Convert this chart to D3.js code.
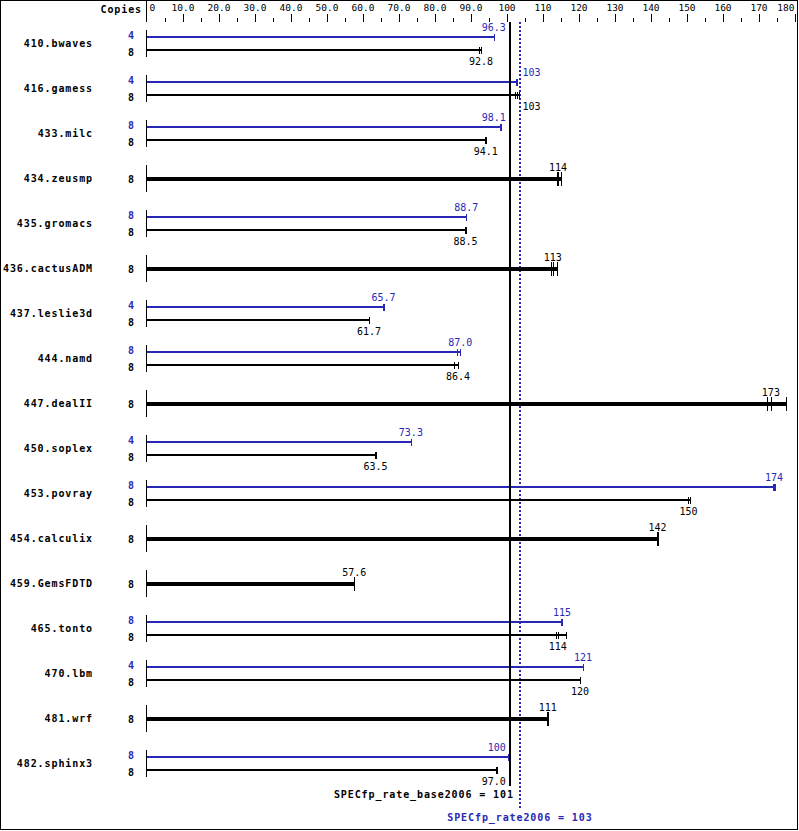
<!DOCTYPE html>
<html><head><meta charset="utf-8">
<script src="https://cdn.jsdelivr.net/npm/d3@7"></script>
<style>body{margin:0;background:#fff} svg{display:block}</style>
</head><body><svg id="c" width="799" height="831"></svg>
<script>
// ---- data ----
const benchmarks = ["410.bwaves","416.gamess","433.milc","434.zeusmp","435.gromacs","436.cactusADM","437.leslie3d","444.namd","447.dealII","450.soplex","453.povray","454.calculix","459.GemsFDTD","465.tonto","470.lbm","481.wrf","482.sphinx3"];
const baseCopies = [8,8,8,8,8,8,8,8,8,8,8,8,8,8,8,8,8];
const peakCopies = [4,4,8,null,8,null,4,8,null,4,8,null,null,8,4,null,8];
const baseScore = [92.8,103,94.1,114,88.5,113,61.7,86.4,173,63.5,150,142,57.6,114,120,111,97.0];
const peakScore = [96.3,103,98.1,null,88.7,null,65.7,87.0,null,73.3,174,null,null,115,121,null,100];
const baseRuns = [
  [92.3,92.8,92.9],[102.3,102.9,103.4],[93.9,94.1,94.1],[114.0,114.2,114.9],
  [88.4,88.5,88.5],[112.1,112.7,113.8],[61.6,61.7,61.8],[85.2,86.4,86.4],
  [172.1,173.3,177.5],[63.4,63.5,63.6],[150.3,150.4,150.7],[141.6,141.8,142.0],
  [57.4,57.6,57.6],[113.5,114.1,116.5],[120.2,120.3,120.4],[111.2,111.3,111.4],
  [97.0,97.0,97.1]];
const peakRuns = [
  [96.3,96.3,96.5],[102.5,102.6,102.7],[98.0,98.1,98.2],null,
  [88.6,88.7,88.7],null,[65.6,65.7,65.7],[86.1,87.0,87.0],
  null,[73.2,73.3,73.3],[174.0,174.2,174.5],null,
  null,[115.1,115.3,115.4],[121.0,121.1,121.1],null,
  [100.4,100.5,100.6]];
const majorTicks = [0,10,20,30,40,50,60,70,80,90,100,110,120,130,140,150,160,170,180];
const tickLabels = ["0","10.0","20.0","30.0","40.0","50.0","60.0","70.0","80.0","90.0","100","110","120","130","140","150","160","170","180"];
const minorTicks = [5,15,25,35,45,55,65,75,85,95,105,115,125,135,145,155,165,175];
const baseRef = 100.8, peakRef = 103.6;
const baseRefLabel = "SPECfp_rate_base2006 = 101";
const peakRefLabel = "SPECfp_rate2006 = 103";

// ---- drawing ----
const BLUE = "#2828b4";
const MONO = "'DejaVu Sans Mono','Liberation Mono',monospace";
const svg = d3.select("#c");
svg.append("rect").attr("x",0.5).attr("y",0.5).attr("width",797).attr("height",829)
  .attr("fill","#fff").attr("stroke","#000");

const x = d3.scaleLinear().domain([0,180]).range([147,795]);
const rowY = d3.scalePoint().domain(benchmarks).range([43.5, 43.5+45*16]);

// axis (top)
const gAx = svg.append("g").attr("transform","translate(0,22)");
gAx.call(d3.axisTop(x).tickValues(majorTicks).tickSize(8).tickPadding(3.5)
  .tickFormat((d,i)=>tickLabels[i]));
gAx.select(".domain").remove();
gAx.selectAll(".tick line").attr("shape-rendering","crispEdges");
gAx.selectAll(".tick text").attr("font-family",MONO).attr("font-size","9.5px").attr("fill","#000")
  .attr("text-anchor",(d)=> d===0?"start":(d===180?"end":"middle"))
  .attr("dx",(d)=> d===0?2:(d===180?-1:-0.5));
gAx.selectAll(".tick").filter(d=>d===0).select("line").remove();
const gAx2 = svg.append("g").attr("transform","translate(0,22)");
gAx2.call(d3.axisTop(x).tickValues(minorTicks).tickSize(4).tickFormat(""));
gAx2.select(".domain").remove();
gAx2.selectAll(".tick line").attr("shape-rendering","crispEdges");

svg.append("line").attr("x1",146.5).attr("x2",146.5).attr("y1",0).attr("y2",22)
  .attr("stroke","#000").attr("shape-rendering","crispEdges");
svg.append("text").attr("x",142).attr("y",12.5).attr("text-anchor","end")
  .attr("font-family",MONO).attr("font-size","10px").attr("font-weight","bold")
  .attr("letter-spacing","0.9px").text("Copies");

// peak reference dotted line (behind bars)
svg.append("line").attr("x1",x(peakRef)).attr("x2",x(peakRef)).attr("y1",22).attr("y2",808)
  .attr("stroke",BLUE).attr("stroke-width",2).attr("stroke-dasharray","2,2")
  .attr("shape-rendering","crispEdges");

const gRows = svg.append("g");

function valueLabel(g, txt, cx, y, color){
  const t = g.append("text").attr("y",y).attr("font-family",MONO).attr("font-size","10px")
    .attr("fill",color).text(txt);
  const w = t.node().getComputedTextLength();
  let xx = cx, anchor = "middle";
  const lo = x(baseRef)-2, hi = x(peakRef)+1;
  if (cx - w/2 < hi && cx + w/2 > lo) {
    if (cx < x(baseRef)) { xx = lo - 2; anchor = "end"; }
    else { xx = hi + 1.5; anchor = "start"; }
  }
  t.attr("x",xx).attr("text-anchor",anchor);
}
const fmt = v => v >= 100 ? d3.format(".0f")(v) : d3.format(".1f")(v);

function drawBar(g, runs, score, y, color, thick){
  const mx = d3.max(runs);
  const half = thick ? 7 : 3.5;
  g.append("line").attr("x1",x(0)).attr("x2",x(mx)).attr("y1",y).attr("y2",y)
    .attr("stroke",color).attr("stroke-width",thick?4:2).attr("shape-rendering","crispEdges");
  runs.forEach(r=>{
    const xx = Math.round(x(r))+0.5;
    g.append("line").attr("x1",xx).attr("x2",xx).attr("y1",y-half).attr("y2",y+half)
      .attr("stroke",color).attr("stroke-width",1).attr("shape-rendering","crispEdges");
  });
  const med = d3.median(runs);
  if (thick) valueLabel(g, fmt(score), x(med), y-8, color);
  else if (color === BLUE) valueLabel(g, fmt(score), x(med), y-6.5, color);
  else valueLabel(g, fmt(score), x(med), y+15, color);
}

benchmarks.forEach((b,i)=>{
  const cy = rowY(b);
  const g = gRows.append("g");
  g.append("text").attr("x",93).attr("y",cy+3.5).attr("text-anchor","end")
    .attr("font-family",MONO).attr("font-size","10px").attr("font-weight","bold")
    .attr("letter-spacing","0.9px").text(b);
  g.append("line").attr("x1",146.5).attr("x2",146.5).attr("y1",cy-13.5).attr("y2",cy+13.5)
    .attr("stroke","#000").attr("shape-rendering","crispEdges");
  if (peakCopies[i] !== null) {
    g.append("text").attr("x",134).attr("y",cy-5).attr("text-anchor","end")
      .attr("font-family",MONO).attr("font-size","10px").attr("font-weight","bold")
      .attr("fill",BLUE).text(peakCopies[i]);
    g.append("text").attr("x",134).attr("y",cy+12.5).attr("text-anchor","end")
      .attr("font-family",MONO).attr("font-size","10px").attr("font-weight","bold")
      .text(baseCopies[i]);
    drawBar(g, peakRuns[i], peakScore[i], cy-6.5, BLUE, false);
    drawBar(g, baseRuns[i], baseScore[i], cy+6.5, "#000", false);
  } else {
    g.append("text").attr("x",134).attr("y",cy+4).attr("text-anchor","end")
      .attr("font-family",MONO).attr("font-size","10px").attr("font-weight","bold")
      .text(baseCopies[i]);
    drawBar(g, baseRuns[i], baseScore[i], cy+0.5, "#000", true);
  }
});

// base reference line
svg.append("line").attr("x1",x(baseRef)).attr("x2",x(baseRef)).attr("y1",22).attr("y2",786)
  .attr("stroke","#000").attr("stroke-width",2).attr("shape-rendering","crispEdges");

svg.append("text").attr("x",x(baseRef)+4).attr("y",798).attr("text-anchor","end")
  .attr("font-family",MONO).attr("font-size","10px").attr("font-weight","bold")
  .attr("letter-spacing","0.9px").text(baseRefLabel);
svg.append("text").attr("x",x(peakRef)).attr("y",821).attr("text-anchor","middle")
  .attr("font-family",MONO).attr("font-size","10px").attr("font-weight","bold")
  .attr("letter-spacing","0.9px").attr("fill",BLUE).text(peakRefLabel);
</script></body></html>
